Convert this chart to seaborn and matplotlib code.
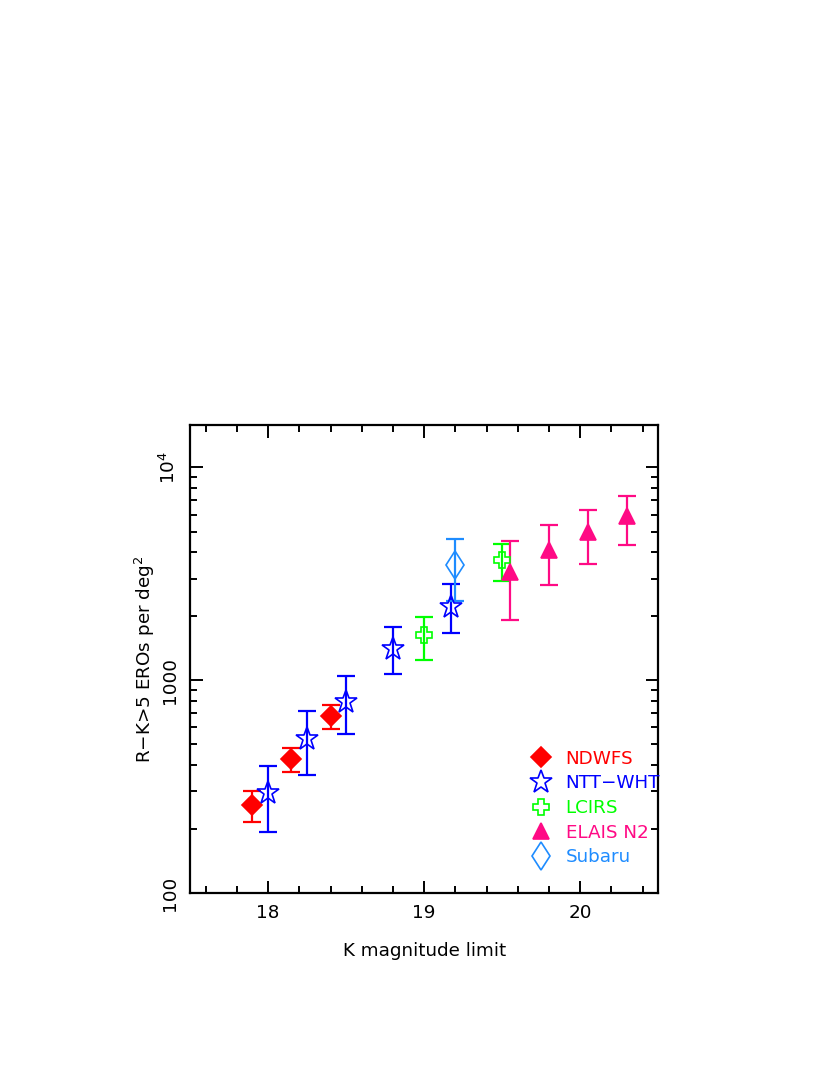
import numpy as np
import matplotlib
matplotlib.use("Agg")
import matplotlib.pyplot as plt
import seaborn as sns
from matplotlib.ticker import LogLocator, FixedLocator, NullFormatter, MultipleLocator

# =====================================
# DATA
# =====================================

ndwfs_k = [17.9, 18.15, 18.4]
ndwfs_n = [258, 426, 679]
ndwfs_lo = [215, 369, 587]
ndwfs_hi = [302, 481, 769]

ntt_k = [18.0, 18.25, 18.5, 18.8, 19.17]
ntt_n = [294, 532, 789, 1409, 2208]
ntt_lo = [194, 358, 556, 1071, 1664]
ntt_hi = [396, 717, 1045, 1774, 2825]

lcirs_k = [19.0, 19.5]
lcirs_n = [1626, 3656]
lcirs_lo = [1242, 2917]
lcirs_hi = [1991, 4365]

elais_k = [19.55, 19.8, 20.05, 20.3]
elais_n = [3221, 4113, 4965, 5890]
elais_lo = [1914, 2813, 3508, 4345]
elais_hi = [4500, 5345, 6326, 7310]

subaru_k = [19.2]
subaru_n = [3490]
subaru_lo = [2356]
subaru_hi = [4592]

# =====================================
# STYLE
# =====================================

sns.set_style("ticks")
plt.rcParams['font.family'] = ['DejaVu Sans']
plt.rcParams['mathtext.fontset'] = 'dejavusans'
for key in ['text.color', 'axes.labelcolor', 'xtick.color', 'ytick.color']:
    plt.rcParams[key] = 'black'

FS = 13.2

fig = plt.figure(figsize=(8.3, 10.75), dpi=100)
ax = fig.add_axes([0.229, 0.1693, 0.564, 0.4354])

surveys = [
    ("NDWFS", ndwfs_k, ndwfs_n, ndwfs_lo, ndwfs_hi, "#ff0000", "D", True, 10.5),
    ("NTT\u2212WHT", ntt_k, ntt_n, ntt_lo, ntt_hi, "#0000ff", "*", False, 17),
    ("LCIRS", lcirs_k, lcirs_n, lcirs_lo, lcirs_hi, "#00ff00", "P", False, 11.5),
    ("ELAIS N2", elais_k, elais_n, elais_lo, elais_hi, "#ff0a85", "^", True, 11.5),
    ("Subaru", subaru_k, subaru_n, subaru_lo, subaru_hi, "#1e8cff", "d", False, 14.5),
]

for name, k, n, lo, hi, col, mk, filled, ms in surveys:
    n = np.array(n)
    yerr = [n - np.array(lo), np.array(hi) - n]
    ax.errorbar(k, n, yerr=yerr, fmt="none", ecolor=col,
                elinewidth=1.6, capsize=6.2, capthick=1.6, zorder=2)
    ax.plot(k, n, linestyle="none", marker=mk, markersize=ms,
            markerfacecolor=col if filled else "none",
            markeredgecolor=col, markeredgewidth=1.2,
            label=name, zorder=3)

# =====================================
# AXES
# =====================================

ax.set_yscale("log")
ax.set_xlim(17.5, 20.5)
ax.set_ylim(100, 10 ** 4.2)

ax.xaxis.set_major_locator(FixedLocator([18, 19, 20]))
ax.xaxis.set_minor_locator(MultipleLocator(0.2))
ax.yaxis.set_major_locator(FixedLocator([100, 1000, 10000]))
ax.yaxis.set_minor_locator(LogLocator(base=10, subs=np.arange(2, 10)))
ax.yaxis.set_minor_formatter(NullFormatter())
ax.set_xticklabels(["18", "19", "20"])
ax.set_yticklabels(["100", "1000", r"$\mathregular{10^4}$"],
                   rotation=90, va="center")

ax.tick_params(which="both", direction="in", top=True, right=True,
               width=1.4, labelsize=FS, color="black")
ax.tick_params(which="major", length=9, pad=8)
ax.tick_params(which="minor", length=5)

for s in ax.spines.values():
    s.set_linewidth(1.6)
    s.set_color("black")

ax.set_xlabel("K magnitude limit", fontsize=FS, labelpad=14)
ax.set_ylabel(r"R$\mathregular{-}$K>5 EROs per deg$\mathregular{^2}$",
              fontsize=FS, labelpad=1)

leg = ax.legend(loc="upper left", frameon=False, fontsize=FS,
                handletextpad=0.75, labelspacing=0.36,
                borderaxespad=0, borderpad=0, handlelength=1.2,
                bbox_to_anchor=(0.726, 0.306))
for text, s in zip(leg.get_texts(), surveys):
    text.set_color(s[5])

fig.savefig("out.png", dpi=100)
